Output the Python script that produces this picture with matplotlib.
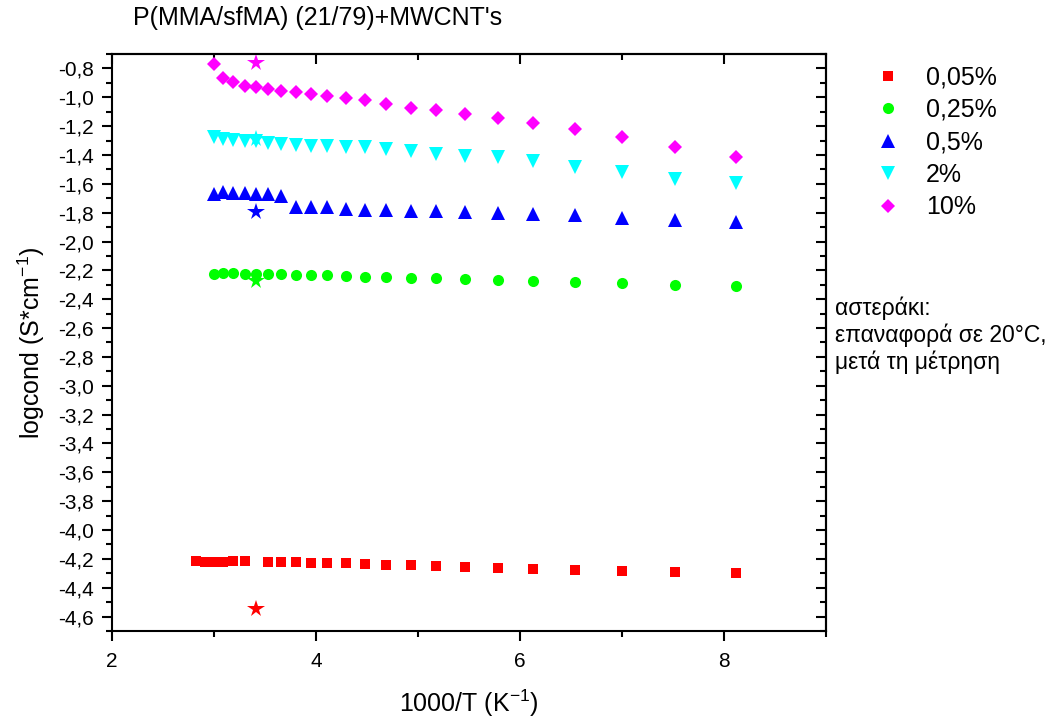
import matplotlib
matplotlib.use("Agg")
import matplotlib.pyplot as plt
from matplotlib.ticker import MultipleLocator, FuncFormatter

plt.rcParams['font.family'] = ['Liberation Sans', 'DejaVu Sans']
plt.rcParams['mathtext.default'] = 'regular'

# 1000/T values (K^-1) of the temperature sweep
x_sweep = [3.00, 3.09, 3.19, 3.30, 3.41, 3.53, 3.66, 3.80, 3.95, 4.11, 4.29,
           4.48, 4.69, 4.93, 5.18, 5.46, 5.78, 6.13, 6.54, 7.00, 7.52, 8.12]
x_005 = [2.82, 2.91, 3.00, 3.09, 3.19, 3.30, 3.53, 3.66, 3.80, 3.95, 4.11, 4.29,
         4.48, 4.69, 4.93, 5.18, 5.46, 5.78, 6.13, 6.54, 7.00, 7.52, 8.12]

y_005 = [-4.218, -4.222, -4.220, -4.222, -4.215, -4.218, -4.222, -4.222, -4.225,
         -4.227, -4.229, -4.232, -4.236, -4.241, -4.246, -4.250, -4.255, -4.260,
         -4.267, -4.274, -4.281, -4.290, -4.299]
y_025 = [-2.227, -2.216, -2.216, -2.225, -2.225, -2.225, -2.227, -2.229, -2.232,
         -2.234, -2.238, -2.243, -2.247, -2.250, -2.256, -2.261, -2.266, -2.273,
         -2.282, -2.289, -2.299, -2.308]
y_05 = [-1.670, -1.654, -1.661, -1.665, -1.670, -1.672, -1.684, -1.758, -1.758,
        -1.758, -1.772, -1.779, -1.783, -1.788, -1.791, -1.795, -1.800, -1.807,
        -1.816, -1.834, -1.850, -1.864]
y_2 = [-1.273, -1.287, -1.296, -1.303, -1.303, -1.315, -1.324, -1.331, -1.335,
       -1.338, -1.342, -1.347, -1.356, -1.374, -1.391, -1.405, -1.416, -1.442,
       -1.481, -1.518, -1.568, -1.592]
y_10 = [-0.771, -0.864, -0.892, -0.920, -0.931, -0.945, -0.956, -0.965, -0.975,
        -0.991, -1.003, -1.019, -1.044, -1.072, -1.090, -1.118, -1.144, -1.176,
        -1.222, -1.275, -1.342, -1.412]

# values measured back at 20 °C after the sweep
x_reset = 3.41
y_reset = [-4.546, -2.271, -1.793, -1.289, -0.765]

labels = ['0,05%', '0,25%', '0,5%', '2%', '10%']
colors = ['#ff0000', '#00ff00', '#0000ff', '#00ffff', '#ff00ff']
markers = ['s', 'o', '^', 'v', 'D']
msizes = [7.2, 8.0, 10.0, 10.0, 7.6]

series_x = [x_005, x_sweep, x_sweep, x_sweep, x_sweep]
series_y = [y_005, y_025, y_05, y_2, y_10]

fig = plt.figure(figsize=(10.51, 7.18), dpi=100)
ax = fig.add_axes([0.1066, 0.1212, 0.6794, 0.8036])

for xs, ys, c, m, s, lab in zip(series_x, series_y, colors, markers, msizes, labels):
    ax.plot(xs, ys, linestyle='none', marker=m, ms=s, color=c, mew=0, label=lab)
for yr, c in zip(y_reset, colors):
    ax.plot([x_reset], [yr], linestyle='none', marker='*', ms=13, color=c, mew=0)

ax.set_xlim(2, 9)
ax.set_ylim(-4.7, -0.7)

ax.xaxis.set_major_locator(MultipleLocator(2))
ax.xaxis.set_minor_locator(MultipleLocator(1))
ax.yaxis.set_major_locator(MultipleLocator(0.2))
ax.yaxis.set_minor_locator(MultipleLocator(0.1))
ax.xaxis.set_major_formatter(FuncFormatter(lambda v, p: f"{v:.0f}"))
ax.yaxis.set_major_formatter(FuncFormatter(lambda v, p: f"{v:.1f}".replace('.', ',')))

for sp in ax.spines.values():
    sp.set_linewidth(1.5)

ax.tick_params(which='both', direction='out', width=1.5, labelsize=15, top=False, right=False)
ax.tick_params(which='major', length=7)
ax.tick_params(axis='y', which='major', pad=6)
ax.tick_params(axis='x', which='major', pad=8)
ax.tick_params(which='minor', length=4)

# mirrored axes on top and right, ticks pointing inward
top = ax.secondary_xaxis('top')
top.xaxis.set_major_locator(MultipleLocator(2))
top.xaxis.set_minor_locator(MultipleLocator(1))
top.tick_params(which='both', direction='in', width=1.5, labeltop=False)
top.tick_params(which='major', length=7)
top.tick_params(which='minor', length=4)
top.spines['top'].set_linewidth(1.5)

right = ax.secondary_yaxis('right')
right.yaxis.set_major_locator(MultipleLocator(0.2))
right.yaxis.set_minor_locator(MultipleLocator(0.1))
right.tick_params(which='both', direction='in', width=1.5, labelright=False)
right.tick_params(which='major', length=7)
right.tick_params(which='minor', length=4)
right.spines['right'].set_linewidth(1.5)

ax.set_xlabel('1000/T (K$^{-1}$)', fontsize=18, labelpad=12)
ax.set_ylabel('logcond (S*cm$^{-1}$)', fontsize=18, labelpad=8)

fig.text(133 / 1051, 1 - 18 / 718, "P(MMA/sfMA) (21/79)+MWCNT's", fontsize=18,
         ha='left', va='center')

ax.legend(loc='upper left', bbox_to_anchor=(847 / 1051, 1 - 43 / 718),
          bbox_transform=fig.transFigure, frameon=False, fontsize=18,
          numpoints=1, handlelength=1.5, handletextpad=0.75, labelspacing=0.34,
          borderpad=0.4)

fig.text(835 / 1051, 1 - 296 / 718,
         "αστεράκι:\nεπαναφορά σε 20°C,\nμετά τη μέτρηση",
         fontsize=16.5, ha='left', va='top', linespacing=1.2)

fig.savefig('out.png', dpi=100)
